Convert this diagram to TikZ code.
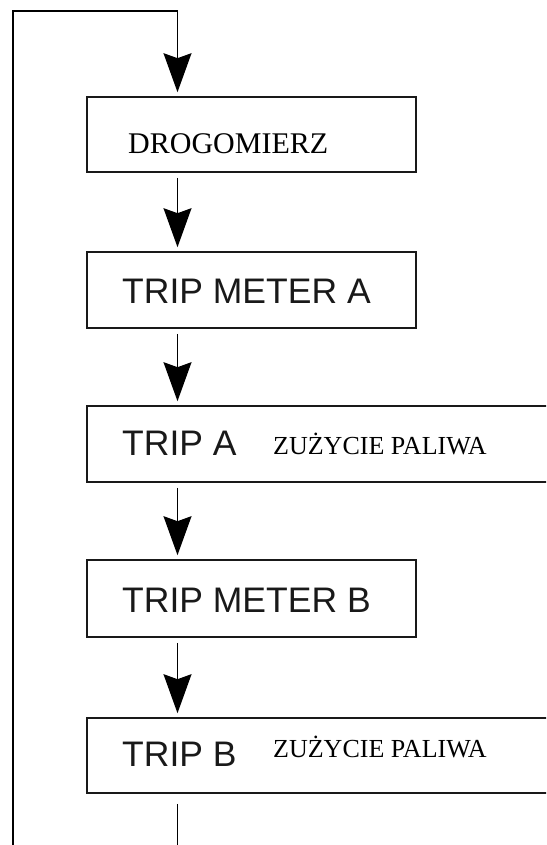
\documentclass[tikz,border=0pt]{standalone}
\usepackage{fontspec}
\setmainfont{Liberation Serif}
\newfontfamily\sansf{Liberation Sans}
\usetikzlibrary{arrows.meta}
\begin{document}
\begin{tikzpicture}[x=1pt,y=-1pt,
  box/.style={draw=black!90,line width=1.6pt,inner sep=0pt,minimum height=75pt},
  wire/.style={draw=black,line width=1.3pt},
  arr/.style={wire,-{Stealth[length=39pt,width=28pt,inset=5pt,fill=black]},shorten >=4pt},
  serif/.style={anchor=base west,inner sep=0pt,font=\fontsize{30}{30}\selectfont},
  serifs/.style={anchor=base west,inner sep=0pt,font=\fontsize{26}{26}\selectfont},
  sans/.style={anchor=base west,inner sep=0pt,text=black!90,font=\sansf\fontsize{35.5}{36}\selectfont}]
\useasboundingbox (0,0) rectangle (546,845);
\clip (0,0) rectangle (546,845);
\coordinate (ax) at (177.5,0);
\coordinate (tl) at (13,11);
\coordinate (bl) at (13,845);
\coordinate (bot) at (177.5,845);
% boxes
\node[box,minimum width=329pt] (b1) at (251.5,134.5) {};
\node[box,minimum width=329pt,minimum height=76pt] (b2) at (251.5,290) {};
\node[box,minimum width=520pt,minimum height=76pt] (b3) at (347,444) {};
\node[box,minimum width=329pt,minimum height=77pt] (b4) at (251.5,598.5) {};
\node[box,minimum width=520pt] (b5) at (347,755.5) {};
% texts
\node[serif] (t1) at (128,154) {DROGOMIERZ};
\node[sans] (t2) at (122,303) {TRIP METER A};
\node[sans] (t3) at (122,455) {TRIP A};
\node[serifs] (t3b) at (273,454) {ZUŻYCIE PALIWA};
\node[sans] (t4) at (122,612) {TRIP METER B};
\node[sans] (t5) at (122,766) {TRIP B};
\node[serifs] (t5b) at (273,757) {ZUŻYCIE PALIWA};
% connectors
\draw[arr] (bl) -- (tl) -- (tl -| ax) -- (b1.north -| ax);
\draw[arr,shorten <=5pt] (b1.south -| ax) -- (b2.north -| ax);
\draw[arr,shorten <=5pt] (b2.south -| ax) -- (b3.north -| ax);
\draw[arr,shorten <=5pt] (b3.south -| ax) -- (b4.north -| ax);
\draw[arr,shorten <=5pt] (b4.south -| ax) -- (b5.north -| ax);
\draw[wire,shorten <=10pt] (b5.south -| ax) -- (bot);
\end{tikzpicture}
\end{document}
